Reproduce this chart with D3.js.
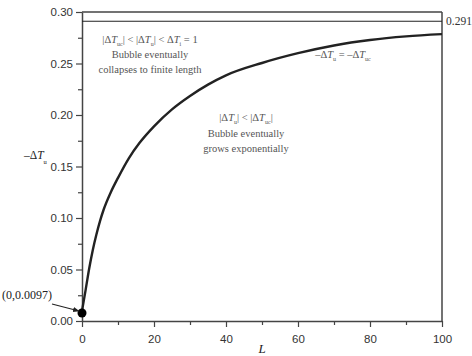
<!DOCTYPE html>
<html><head><meta charset="utf-8">
<script src="https://cdn.jsdelivr.net/npm/d3@7"></script>
<style>body{margin:0;background:#fff}svg{display:block}</style>
</head><body>
<script>
const L = [0, 1, 2, 3, 4, 5, 6, 8, 10, 13, 16, 20, 25, 30, 35, 40, 50, 60, 70, 80, 90, 100];
const dT = [0.0097, 0.030, 0.051, 0.069, 0.084, 0.097, 0.108, 0.125, 0.139, 0.158, 0.173, 0.189, 0.2055, 0.2185, 0.2295, 0.2385, 0.2505, 0.2600, 0.2675, 0.2728, 0.2763, 0.2785];
const xTicks = [0, 20, 40, 60, 80, 100];
const yTicks = [0.00, 0.05, 0.10, 0.15, 0.20, 0.25, 0.30];
const criticalValue = 0.291;
const startPoint = [0, 0.0097];

const W = 472, H = 356;
const m = {l: 82, r: 30, t: 12, b: 35};
const svg = d3.select("body").append("svg").attr("width", W).attr("height", H);
const x = d3.scaleLinear().domain([0, 100]).range([m.l, W - m.r]);
const y = d3.scaleLinear().domain([0, 0.30]).range([H - m.b, m.t]);
const axisCol = "#444";
const sans = "Liberation Sans, Arial, sans-serif";
const serif = "Liberation Serif, Times New Roman, serif";

const minorX = d3.range(10, 100, 20);
const minorY = d3.range(0.025, 0.30, 0.05);

const gx = svg.append("g").attr("transform", `translate(0,${y(0)})`)
  .call(d3.axisBottom(x).tickValues(xTicks).tickFormat(d3.format("d")).tickSize(6).tickSizeOuter(0));
svg.append("g").attr("transform", `translate(0,${y(0)})`)
  .call(d3.axisBottom(x).tickValues(minorX).tickFormat("").tickSize(4).tickSizeOuter(0))
  .select(".domain").remove();
const gy = svg.append("g").attr("transform", `translate(${x(0)},0)`)
  .call(d3.axisLeft(y).tickValues(yTicks).tickFormat(d3.format(".2f")).tickSize(6).tickSizeOuter(0));
svg.append("g").attr("transform", `translate(${x(0)},0)`)
  .call(d3.axisLeft(y).tickValues(minorY).tickFormat("").tickSize(4).tickSizeOuter(0))
  .select(".domain").remove();

svg.selectAll(".domain").attr("stroke", axisCol).attr("stroke-width", 1.5);
svg.selectAll(".tick line").attr("stroke", axisCol).attr("stroke-width", 1.2);
svg.selectAll(".tick text").attr("font-family", sans).attr("font-size", 11.5).attr("fill", "#333");
gx.selectAll(".tick text").attr("dy", "1.1em");

svg.append("line").attr("x1", x(0)).attr("x2", x(100)).attr("y1", y(0.30)).attr("y2", y(0.30))
  .attr("stroke", axisCol).attr("stroke-width", 1.5);
svg.append("line").attr("x1", x(100)).attr("x2", x(100)).attr("y1", y(0.30)).attr("y2", y(0))
  .attr("stroke", axisCol).attr("stroke-width", 1.5);

svg.append("line").attr("x1", x(0)).attr("x2", x(100)).attr("y1", y(criticalValue)).attr("y2", y(criticalValue))
  .attr("stroke", "#222").attr("stroke-width", 1.2);
svg.append("text").attr("x", x(100) + 4).attr("y", y(criticalValue) + 4)
  .attr("font-family", serif).attr("font-size", 11.5).attr("fill", "#333").text(criticalValue);

const pts = L.map((d, i) => [d, dT[i]]);
svg.append("path").datum(pts)
  .attr("d", d3.line().x(d => x(d[0])).y(d => y(d[1])).curve(d3.curveMonotoneX))
  .attr("fill", "none").attr("stroke", "#222").attr("stroke-width", 2.4);

svg.append("circle").attr("cx", x(startPoint[0])).attr("cy", y(startPoint[1]) + 2).attr("r", 4.5).attr("fill", "#000");

svg.append("text").attr("x", 2).attr("y", 299).attr("font-family", serif).attr("font-size", 12).attr("fill", "#222")
  .text("(0,0.0097)");
svg.append("defs").append("marker").attr("id", "ah").attr("viewBox", "0 0 10 10").attr("refX", 9).attr("refY", 5)
  .attr("markerWidth", 6).attr("markerHeight", 6).attr("orient", "auto")
  .append("path").attr("d", "M0,1 L10,5 L0,9 z").attr("fill", "#222");
svg.append("line").attr("x1", 52).attr("y1", 304).attr("x2", x(startPoint[0]) - 3).attr("y2", y(startPoint[1]))
  .attr("stroke", "#222").attr("stroke-width", 1.1).attr("marker-end", "url(#ah)");

const gray = "#555";
function label(cx, cy, parts, size) {
  const t = svg.append("text").attr("x", cx).attr("y", cy).attr("text-anchor", "middle")
    .attr("font-family", serif).attr("font-size", size || 10.5).attr("fill", gray);
  parts.forEach(p => {
    const ts = t.append("tspan").text(p.t);
    if (p.i) ts.attr("font-style", "italic");
    if (p.sub) ts.attr("font-size", 6).attr("dy", 3);
    if (p.up) ts.attr("dy", -3);
  });
  return t;
}
label(150, 43, [{t: "|Δ"}, {t: "T", i: true}, {t: "uc", sub: true}, {t: "| < |Δ", up: true}, {t: "T", i: true},
  {t: "u", sub: true}, {t: "| < Δ", up: true}, {t: "T", i: true}, {t: "i", sub: true}, {t: " = 1", up: true}]);
label(150, 58, [{t: "Bubble eventually"}]);
label(150, 73, [{t: "collapses to finite length"}]);

label(246, 121, [{t: "|Δ"}, {t: "T", i: true}, {t: "u", sub: true}, {t: "| < |Δ", up: true}, {t: "T", i: true},
  {t: "uc", sub: true}, {t: "|", up: true}]);
label(246, 137, [{t: "Bubble eventually"}]);
label(246, 152, [{t: "grows exponentially"}]);

label(343, 58, [{t: "‒Δ"}, {t: "T", i: true}, {t: "u", sub: true}, {t: " = ‒Δ", up: true}, {t: "T", i: true}, {t: "uc", sub: true}]);

const yl = svg.append("text").attr("x", 24).attr("y", 159).attr("font-family", serif).attr("font-size", 11.5).attr("fill", "#222");
yl.append("tspan").text("‒Δ");
yl.append("tspan").attr("font-style", "italic").text("T");
yl.append("tspan").attr("font-size", 6.5).attr("dy", 5).text("u");

svg.append("text").attr("x", x(50)).attr("y", 353).attr("text-anchor", "middle").attr("font-family", serif)
  .attr("font-style", "italic").attr("font-size", 13).attr("fill", "#222").text("L");
</script>
</body></html>
